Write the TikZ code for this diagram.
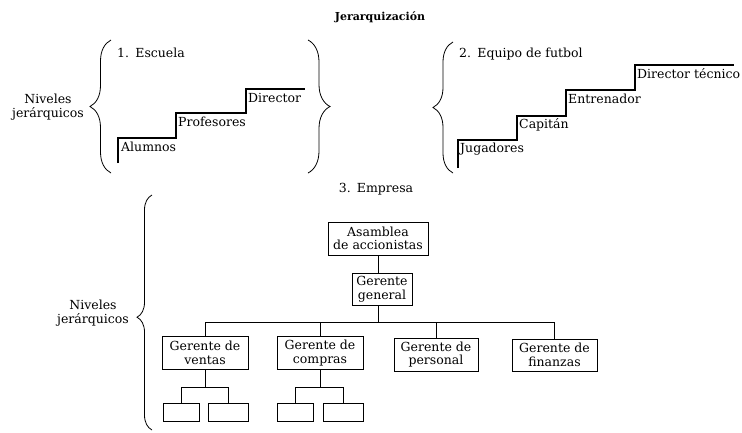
\documentclass[tikz,border=0pt]{standalone}
\usepackage{fontspec}
\setmainfont{DejaVu Serif}
\usetikzlibrary{decorations.pathreplacing}
\begin{document}
\begin{tikzpicture}[x=1pt,y=-1pt,
  txt/.style={font=\fontsize{12.5}{14}\selectfont, inner sep=0pt},
  lbl/.style={font=\fontsize{12.5}{14}\selectfont, inner sep=0pt, align=center},
  box/.style={draw, line width=1pt, font=\fontsize{12.5}{13.5}\selectfont, align=center, inner sep=1pt},
  sbox/.style={draw, line width=1pt, minimum width=#1, minimum height=18pt, inner sep=0pt},
  stair/.style={line width=1.1pt},
  conn/.style={line width=0.9pt},
  brc/.style={decorate, decoration={brace, amplitude=#1}, line width=0.8pt}]
\useasboundingbox (0,0) rectangle (742,432);

% title
\node[font=\bfseries\fontsize{11}{13}\selectfont, inner sep=0pt, anchor=base] (title) at (380,20) {Jerarquización};

% ---------- 1. Escuela ----------
\node[lbl] (niv1) at (48,107) {Niveles\\jerárquicos};
\draw[brc=21pt] (111,173) -- (111,40);
\draw[brc=22pt] (308,40) -- (308,173);
\node[txt, anchor=base west] (esc) at (117,57) {1.\hspace{0.5em}Escuela};
\draw[stair] (118,163) -- (118,138) -- (176,138) -- (176,113) -- (246,113) -- (246,89) -- (305,89);
\node[txt, anchor=base west] (alu) at (121,151) {Alumnos};
\node[txt, anchor=base west] (pro) at (178,126) {Profesores};
\node[txt, anchor=base west] (dir) at (248,102) {Director};

% ---------- 2. Equipo de futbol ----------
\draw[brc=20pt] (453,173) -- (453,42);
\node[txt, anchor=base west] (equ) at (459,57) {2.\hspace{0.5em}Equipo de futbol};
\draw[stair] (458,168) -- (458,140) -- (517,140) -- (517,116) -- (566,116) -- (566,90) -- (635,90) -- (635,65) -- (734,65);
\node[txt, anchor=base west] (jug) at (460,152) {Jugadores};
\node[txt, anchor=base west] (cap) at (519,128) {Capitán};
\node[txt, anchor=base west] (ent) at (568,103) {Entrenador};
\node[txt, anchor=base west] (dte) at (637,78) {Director técnico};

% ---------- 3. Empresa ----------
\node[txt, anchor=base] (emp) at (376,192) {3.\hspace{0.5em}Empresa};
\node[lbl] (niv3) at (93,313) {Niveles\\jerárquicos};
\draw[brc=15pt, decoration={aspect=0.48}] (152,430) -- (152,195);

\node[box, minimum width=100pt, minimum height=33pt] (asam) at (378,238.5) {Asamblea\\de accionistas};
\node[box, minimum width=60pt, minimum height=32pt] (gg) at (382,289) {Gerente\\general};
\node[box, minimum width=86pt, minimum height=33pt] (gv) at (205,353) {Gerente de\\ventas};
\node[box, minimum width=86pt, minimum height=33pt] (gc) at (320,353) {Gerente de\\compras};
\node[box, minimum width=84pt, minimum height=33pt] (gp) at (436,354.5) {Gerente de\\personal};
\node[box, minimum width=85pt, minimum height=32pt] (gf) at (554.5,355) {Gerente de\\finanzas};

\node[sbox=36pt] (v1) at (181,412) {};
\node[sbox=40pt] (v2) at (228,412) {};
\node[sbox=36pt] (c1) at (295,412) {};
\node[sbox=40pt] (c2) at (343,412) {};

\coordinate (bus) at (0,322);
\coordinate (sb) at (0,387);
\draw[conn] (asam.south) -- (asam.south |- gg.north);
\draw[conn] (asam.south |- gg.south) -- (asam.south |- bus);
\draw[conn] (gv.north) -- (gv.north |- bus) -- (gf.north |- bus) -- (gf.north);
\draw[conn] (gc.north) -- (gc.north |- bus);
\draw[conn] (gp.north) -- (gp.north |- bus);
\draw[conn] (gv.south) -- (gv.south |- sb);
\draw[conn] (v1.north) -- (v1.north |- sb) -- (v2.north |- sb) -- (v2.north);
\draw[conn] (gc.south) -- (gc.south |- sb);
\draw[conn] (c1.north) -- (c1.north |- sb) -- (c2.north |- sb) -- (c2.north);
\end{tikzpicture}
\end{document}
